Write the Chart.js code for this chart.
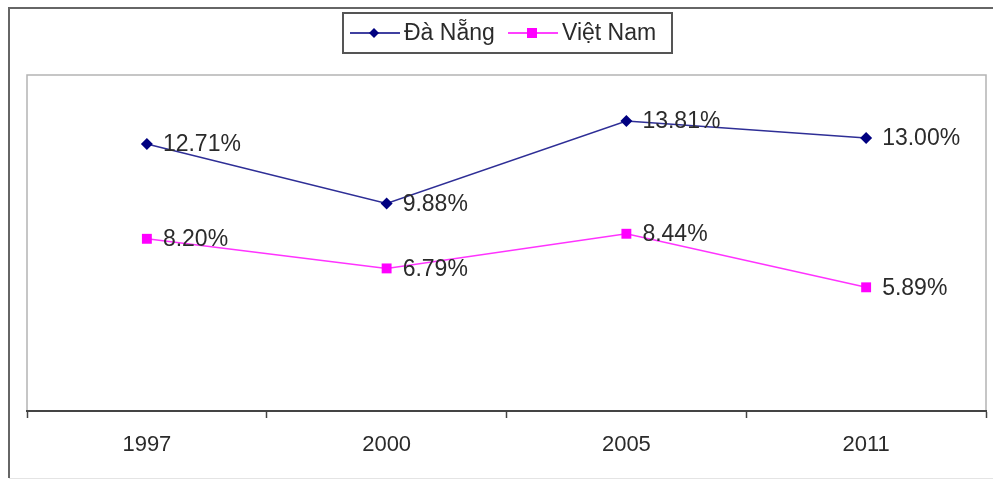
<!DOCTYPE html>
<html>
<head>
<meta charset="utf-8">
<script src="https://cdn.jsdelivr.net/npm/chart.js@4.4.0/dist/chart.umd.min.js"></script>
<style>
  html, body { margin: 0; padding: 0; background: #fff; }
  #wrap { width: 993px; height: 481px; position: relative; }
</style>
</head>
<body>
<div id="wrap"><canvas id="growth_chart"></canvas></div>
<script>
// 연도
var years = ['1997', '2000', '2005', '2011'];
// 계열 값 (%)
var daNang = [12.71, 9.88, 13.81, 13.00];
var vietNam = [8.20, 6.79, 8.44, 5.89];
var seriesNames = ['Đà Nẵng', 'Việt Nam'];

var FONT = '"Liberation Sans", Arial, sans-serif';

// 바깥 테두리 + 플롯 영역 테두리
var framePlugin = {
  id: 'frame',
  beforeDraw: function(chart) {
    var ctx = chart.ctx;
    var a = chart.chartArea;
    ctx.save();
    ctx.fillStyle = '#fff';
    ctx.fillRect(0, 0, chart.width, chart.height);
    ctx.strokeStyle = '#e4e4e4';
    ctx.lineWidth = 1;
    ctx.beginPath();
    ctx.moveTo(9, 478.5); ctx.lineTo(chart.width, 478.5);
    ctx.stroke();
    ctx.strokeStyle = '#666';
    ctx.lineWidth = 2;
    ctx.beginPath();
    ctx.moveTo(chart.width + 2, 8); ctx.lineTo(9, 8); ctx.lineTo(9, 478);
    ctx.stroke();
    ctx.strokeStyle = '#b4b4b4';
    ctx.lineWidth = 1.5;
    ctx.beginPath();
    ctx.moveTo(a.left, a.bottom); ctx.lineTo(a.left, a.top);
    ctx.lineTo(a.right, a.top); ctx.lineTo(a.right, a.bottom);
    ctx.stroke();
    ctx.restore();
  }
};

// 점 옆에 값 표시
var valueLabelPlugin = {
  id: 'valueLabels',
  afterDatasetsDraw: function(chart) {
    var ctx = chart.ctx;
    ctx.save();
    ctx.font = '23px ' + FONT;
    ctx.fillStyle = '#2b2b2b';
    ctx.textAlign = 'left';
    ctx.textBaseline = 'middle';
    chart.data.datasets.forEach(function(ds, i) {
      chart.getDatasetMeta(i).data.forEach(function(pt, j) {
        ctx.fillText(ds.data[j].toFixed(2) + '%', pt.x + 16, pt.y + 1);
      });
    });
    ctx.restore();
  }
};

// 범례 (선 + 마커)
var legendBoxPlugin = {
  id: 'legendBox',
  afterDraw: function(chart) {
    var ctx = chart.ctx;
    ctx.save();
    ctx.strokeStyle = '#555';
    ctx.lineWidth = 2;
    ctx.strokeRect(343, 13, 329, 40);
    ctx.font = '23px ' + FONT;
    ctx.textBaseline = 'middle';
    var items = [
      { x: 350, color: '#000080', marker: 'diamond' },
      { x: 508, color: '#ff00ff', marker: 'square' }
    ];
    items.forEach(function(it, i) {
      ctx.strokeStyle = it.color;
      ctx.lineWidth = 1.5;
      ctx.beginPath();
      ctx.moveTo(it.x, 33); ctx.lineTo(it.x + 50, 33);
      ctx.stroke();
      ctx.fillStyle = it.color;
      var cx = it.x + 24;
      ctx.beginPath();
      if (it.marker === 'diamond') {
        ctx.moveTo(cx, 28); ctx.lineTo(cx + 5, 33); ctx.lineTo(cx, 38); ctx.lineTo(cx - 5, 33);
        ctx.closePath();
      } else {
        ctx.rect(cx - 5, 28, 10, 10);
      }
      ctx.fill();
      ctx.fillStyle = '#2b2b2b';
      ctx.fillText(seriesNames[i], it.x + 54, 34);
    });
    ctx.restore();
  }
};

var ctx = document.getElementById('growth_chart').getContext('2d');
var growthChart = new Chart(ctx, {
  type: 'line',
  data: {
    labels: years,
    datasets: [{
      label: seriesNames[0],
      data: daNang,
      borderColor: '#2e2e96',
      backgroundColor: '#000080',
      borderWidth: 1.5,
      pointStyle: 'rectRot',
      pointRadius: 6,
      pointBorderWidth: 0,
      tension: 0
    }, {
      label: seriesNames[1],
      data: vietNam,
      borderColor: '#ff33ff',
      backgroundColor: '#ff00ff',
      borderWidth: 1.5,
      pointStyle: 'rect',
      pointRadius: 7,
      pointBorderWidth: 0,
      tension: 0
    }]
  },
  options: {
    responsive: true,
    maintainAspectRatio: false,
    animation: false,
    layout: { padding: { left: 27, right: 5, top: 75, bottom: 0 } },
    scales: {
      x: {
        offset: true,
        grid: {
          offset: true,
          drawOnChartArea: false,
          drawTicks: true,
          tickLength: 7,
          tickWidth: 1.5,
          color: '#444'
        },
        border: { color: '#444', width: 2 },
        ticks: {
          color: '#2b2b2b',
          padding: 14,
          font: { family: FONT, size: 22 }
        },
        afterFit: function(scale) { scale.height = 70; }
      },
      y: {
        display: false,
        min: 0,
        max: 16
      }
    },
    plugins: {
      legend: { display: false },
      tooltip: { enabled: false }
    }
  },
  plugins: [framePlugin, valueLabelPlugin, legendBoxPlugin]
});
</script>
</body>
</html>
